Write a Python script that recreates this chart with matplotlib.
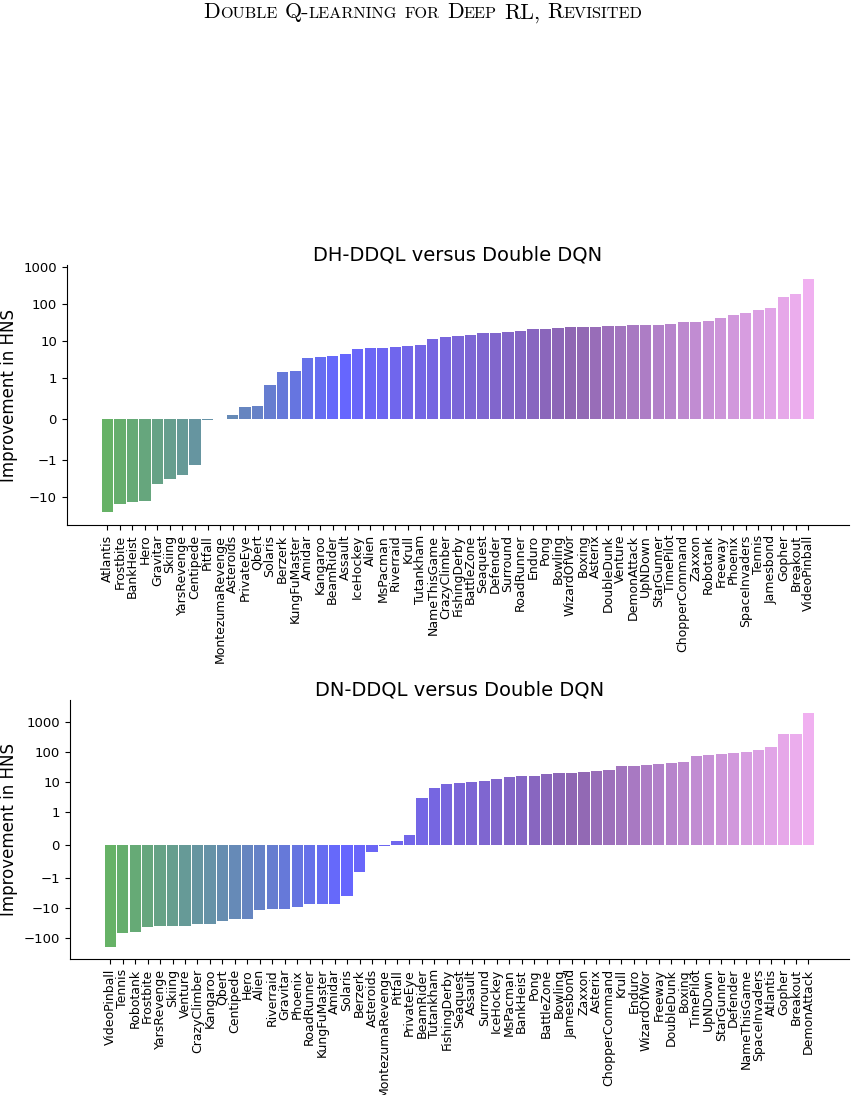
import numpy as np
import matplotlib
matplotlib.use("Agg")
import matplotlib.pyplot as plt
from matplotlib.colors import LinearSegmentedColormap
from matplotlib.ticker import NullLocator

# DH-DDQL vs Double DQN, sorted
games_dh = ["Atlantis", "Frostbite", "BankHeist", "Hero", "Gravitar", "Skiing", "YarsRevenge",
            "Centipede", "Pitfall", "MontezumaRevenge", "Asteroids", "PrivateEye", "Qbert",
            "Solaris", "Berzerk", "KungFuMaster", "Amidar", "Kangaroo", "BeamRider", "Assault",
            "IceHockey", "Alien", "MsPacman", "Riverraid", "Krull", "Tutankham", "NameThisGame",
            "CrazyClimber", "FishingDerby", "BattleZone", "Seaquest", "Defender", "Surround",
            "RoadRunner", "Enduro", "Pong", "Bowling", "WizardOfWor", "Boxing", "Asterix",
            "DoubleDunk", "Venture", "DemonAttack", "UpNDown", "StarGunner", "TimePilot",
            "ChopperCommand", "Zaxxon", "Robotank", "Freeway", "Phoenix", "SpaceInvaders",
            "Tennis", "Jamesbond", "Gopher", "Breakout", "VideoPinball"]
impr_dh = [-26.5, -15.9, -13.5, -12.9, -4.6, -3.2, -2.5,
           -1.36, -0.024, 0.005, 0.096, 0.29, 0.31,
           0.82, 1.39, 1.48, 3.5, 3.7, 3.95, 4.5,
           6.1, 6.5, 6.5, 6.9, 7.3, 7.75, 11.2,
           12.6, 13.5, 14.4, 16.4, 16.4, 17.4,
           18.2, 21.0, 21.0, 22.0, 23.5, 23.5, 23.5,
           25.0, 25.0, 26.7, 26.7, 26.7, 28.3,
           32.0, 32.0, 34.0, 41.0, 49.0, 55.5,
           67.0, 75.6, 157.0, 188.0, 474.0]

# DN-DDQL vs Double DQN, sorted
games_dn = ["VideoPinball", "Tennis", "Robotank", "Frostbite", "YarsRevenge", "Skiing", "Venture",
            "CrazyClimber", "Kangaroo", "Qbert", "Centipede", "Hero", "Alien", "Riverraid",
            "Gravitar", "Phoenix", "RoadRunner", "KungFuMaster", "Amidar", "Solaris", "Berzerk",
            "Asteroids", "MontezumaRevenge", "Pitfall", "PrivateEye", "BeamRider", "Tutankham",
            "FishingDerby", "Seaquest", "Assault", "Surround", "IceHockey", "MsPacman",
            "BankHeist", "Pong", "BattleZone", "Bowling", "Jamesbond", "Zaxxon", "Asterix",
            "ChopperCommand", "Krull", "Enduro", "WizardOfWor", "Freeway", "DoubleDunk",
            "Boxing", "TimePilot", "UpNDown", "StarGunner", "Defender", "NameThisGame",
            "SpaceInvaders", "Atlantis", "Gopher", "Breakout", "DemonAttack"]
impr_dn = [-204.0, -66.0, -61.0, -42.0, -39.0, -39.0, -39.0,
           -33.0, -33.0, -26.5, -22.7, -22.7, -11.4, -10.6,
           -10.6, -9.3, -7.2, -7.2, -7.2, -3.9, -0.81,
           -0.21, -0.03, 0.12, 0.3, 2.86, 6.1,
           8.5, 9.1, 9.8, 10.5, 12.3, 14.3,
           15.5, 15.5, 18.1, 19.4, 19.4, 21.0, 22.7,
           24.5, 33.0, 33.0, 35.6, 38.8, 41.8,
           45.3, 71.7, 77.5, 83.5, 90.0, 97.5,
           114.0, 143.0, 389.0, 389.0, 2100.0]

ticks_dh = [-10, -1, 0, 1, 10, 100, 1000]
ticks_dn = [-100, -10, -1, 0, 1, 10, 100, 1000]

palette_anchors = ["#66b266", "#6666ff", "#8f66b2", "#f0b0f0"]

fig = plt.figure(figsize=(8.56, 10.95), dpi=100)
ax1 = fig.add_axes([0.0779, 0.5205, 0.914, 0.2374])
ax2 = fig.add_axes([0.0814, 0.1239, 0.9104, 0.2368])


def draw(ax, games, vals, title, ticks, ylim):
    cmap = LinearSegmentedColormap.from_list("hns", palette_anchors)
    colors = cmap(np.linspace(0, 1, len(games)))
    x = np.arange(len(games))
    ax.bar(x, vals, width=0.9, color=colors)
    ax.set_yscale("symlog", linthresh=1)
    ax.set_ylim(*ylim)
    ax.set_yticks(ticks)
    ax.set_yticklabels([str(t).replace("-", "\u2212") for t in ticks], fontsize=9.5)
    ax.yaxis.set_minor_locator(NullLocator())
    ax.set_xticks(x)
    ax.set_xticklabels(games, rotation=90, fontsize=9)
    ax.set_xlim(-3.25, len(games) - 1 + 3.25)
    ax.spines["top"].set_visible(False)
    ax.spines["right"].set_visible(False)
    ax.set_title(title, fontsize=14, pad=3.5)
    ax.set_ylabel("Improvement in HNS", fontsize=12)


draw(ax1, games_dh, impr_dh, "DH-DDQL versus Double DQN", ticks_dh, (-58, 1120))
draw(ax2, games_dn, impr_dn, "DN-DDQL versus Double DQN", ticks_dn, (-510, 5500))

# page header in small caps, fitted to ~442 px wide
header = "Double Q-learning for Deep RL, Revisited"
target_w = 442
renderer = fig.canvas.get_renderer()

runs = []
for ch in header:
    if ch == " ":
        runs.append((" ", 1.0))
    elif ch.islower():
        runs.append((ch.upper(), 0.74))
    else:
        runs.append((ch, 1.0))
merged = []
for txt, sz in runs:
    if merged and merged[-1][1] == sz and txt != " " and merged[-1][0] != " ":
        merged[-1] = (merged[-1][0] + txt, sz)
    else:
        merged.append((txt, sz))

pieces = []
for txt, rel in merged:
    if txt == " ":
        pieces.append((None, rel))
    else:
        t = fig.text(0, 1 - 18.3 / 1095, txt, family="cmr10", va="baseline", ha="left")
        pieces.append((t, rel))


def layout(big):
    widths = []
    for t, rel in pieces:
        if t is None:
            widths.append(big * 0.33 * 100 / 72)
        else:
            t.set_fontsize(big * rel)
            widths.append(t.get_window_extent(renderer).width)
    return widths


big = 12.5
widths = layout(big)
big = big * target_w / sum(widths)
widths = layout(big)

xpix = 203
for (t, rel), w in zip(pieces, widths):
    if t is not None:
        t.set_x(xpix / 856)
    xpix += w

fig.savefig("out.png", dpi=100)
